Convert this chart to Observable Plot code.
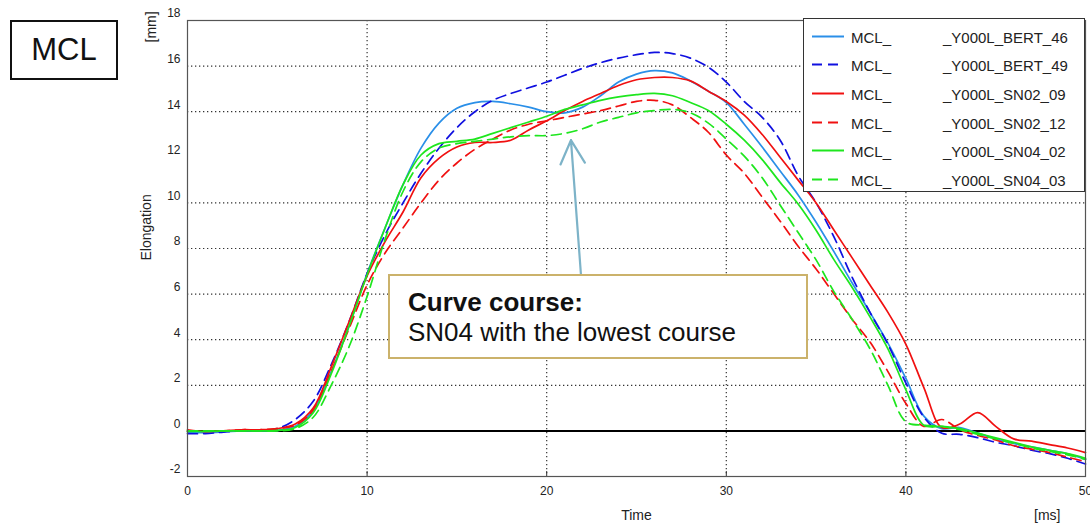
<!DOCTYPE html>
<html>
<head>
<meta charset="utf-8">
<script src="https://cdn.jsdelivr.net/npm/d3@7"></script>
<script src="https://cdn.jsdelivr.net/npm/@observablehq/plot@0.6"></script>
<style>
  html, body { margin: 0; padding: 0; background: #fff; overflow: hidden; }
  #wrap { position: relative; width: 1090px; height: 531px; font-family: "Liberation Sans", Arial, sans-serif; color: #222; }
  #mcl { position: absolute; left: 10px; top: 20px; width: 108px; height: 60px; box-sizing: border-box; border: 2px solid #111; display: flex; align-items: center; justify-content: center; font-size: 31px; color: #111; background: #fff; }
  #legend { position: absolute; left: 803px; top: 18px; width: 282px; height: 174px; box-sizing: border-box; border: 1px solid #333; background: #fff; }
  #legend .row { position: absolute; left: 0; width: 100%; height: 15px; font-size: 15px; line-height: 15px; }
  #legend .a { position: absolute; left: 47px; top: 0; }
  #legend .b { position: absolute; left: 139px; top: 0; }
  #legend svg { position: absolute; left: 7px; top: 0; }
  #note { position: absolute; left: 388px; top: 274px; width: 420px; height: 85px; box-sizing: border-box; border: 2px solid #cbb26b; background: #fff; }
  #note div { position: absolute; left: 18px; font-size: 26px; line-height: 26px; color: #111; white-space: nowrap; }
</style>
</head>
<body>
<div id="wrap"></div>
<script>
// ---- data ----
const time = [0,1,2,3,4,5,6,7,8,9,10,11,12,13,14,15,16,17,18,19,20,21,22,23,24,25,26,27,28,29,30,31,32,33,34,35,36,37,38,39,40,41,42,43,44,45,46,47,48,49,50];

const bert46 = [-0.05,-0.08,-0.05,0,0,0.02,0.2,0.9,2.6,4.6,6.9,8.9,10.8,12.4,13.5,14.15,14.4,14.45,14.35,14.2,14.0,13.95,14.2,14.7,15.3,15.65,15.8,15.7,15.35,14.9,14.4,13.45,12.45,11.4,10.35,9.15,7.85,6.5,5.2,3.85,2.3,0.65,0.1,0.15,-0.1,-0.35,-0.55,-0.7,-0.85,-1.0,-1.25];
const bert49 = [-0.12,-0.12,-0.05,0,0,0.1,0.5,1.3,2.9,4.8,6.9,8.6,10.0,11.3,12.4,13.3,14.0,14.5,14.8,15.05,15.3,15.6,15.9,16.15,16.35,16.5,16.6,16.55,16.35,15.95,15.3,14.45,13.75,12.75,11.2,10.0,8.5,6.75,5.2,3.8,2.1,0.6,-0.1,-0.15,-0.3,-0.5,-0.65,-0.85,-1.0,-1.2,-1.45];
const sn0209 = [0.05,-0.03,0,0.05,0.05,0.1,0.3,1.0,2.8,4.8,6.8,8.3,9.6,11.1,11.95,12.45,12.65,12.65,12.75,13.2,13.6,14.05,14.45,14.8,15.15,15.4,15.5,15.5,15.35,14.9,14.45,13.85,13.0,12.0,11.0,10.0,8.8,7.6,6.4,5.2,3.8,1.9,0.15,0.3,0.8,0.2,-0.35,-0.45,-0.6,-0.75,-0.95];
const sn0212 = [0,0,0,0.05,0.05,0.1,0.25,0.9,2.6,4.5,6.4,7.8,8.9,10.0,11.0,11.75,12.35,12.8,13.2,13.45,13.6,13.75,13.9,14.05,14.25,14.45,14.5,14.3,13.75,13.1,12.1,11.3,10.25,9.2,8.1,7.1,6.0,4.9,3.9,2.6,1.2,0.2,0.5,0.05,-0.2,-0.4,-0.65,-0.8,-0.95,-1.15,-1.35];
const sn0402 = [-0.02,-0.02,0,0,0,0.02,0.15,0.8,2.5,4.6,6.85,8.9,10.8,12.1,12.6,12.7,12.8,13.05,13.3,13.55,13.8,14.1,14.3,14.5,14.65,14.75,14.8,14.7,14.4,14.05,13.45,12.75,11.9,10.9,9.95,8.8,7.5,6.3,5.0,3.6,1.8,0.25,0.2,0.1,-0.1,-0.3,-0.5,-0.7,-0.85,-1.0,-1.2];
const sn0403 = [0,0,0,0,0,0,0.1,0.6,2.0,3.7,5.9,8.4,10.5,11.8,12.4,12.6,12.7,12.8,12.9,12.95,12.95,13.05,13.25,13.55,13.75,13.95,14.05,14.1,13.95,13.5,12.8,12.05,11.1,9.9,8.7,7.5,6.1,4.9,3.6,2.0,0.4,0.25,0.2,0.05,-0.15,-0.35,-0.55,-0.75,-0.9,-1.05,-1.25];

const seriesNames = ["BERT_46","BERT_49","SN02_09","SN02_12","SN04_02","SN04_03"];
const seriesValues = [bert46, bert49, sn0209, sn0212, sn0402, sn0403];
const seriesColors = ["#2a8fe8","#1010e0","#f01010","#f01010","#1ee61e","#1ee61e"];
const seriesDashed = [false, true, false, true, false, true];
const legendPrefix = "MCL_";
const legendSuffix = ["_Y000L_BERT_46","_Y000L_BERT_49","_Y000L_SN02_09","_Y000L_SN02_12","_Y000L_SN04_02","_Y000L_SN04_03"];

const xTicks = [0,10,20,30,40,50];
const yTicks = [-2,0,2,4,6,8,10,12,14,16,18];
const xGrid = [10,20,30,40];
const yGrid = [2,4,6,8,10,14,16];

const arrowData = [{t1: 21.95, v1: 6.4, t2: 21.35, v2: 12.75}];
const noteTitle = "Curve course:";
const noteText = "SN04 with the lowest course";

// ---- build ----
const rows = [];
seriesNames.forEach((name, k) => seriesValues[k].forEach((v, i) => rows.push({t: time[i], v, name})));

const lineMarks = seriesNames.map((name, k) =>
  Plot.line(rows.filter(r => r.name === name), {
    x: "t", y: "v", stroke: seriesColors[k], strokeWidth: 1.7,
    strokeDasharray: seriesDashed[k] ? "10,6" : null, curve: "catmull-rom"
  })
);

const chart = Plot.plot({
  width: 1090, height: 531,
  marginLeft: 187, marginRight: 5, marginTop: 20, marginBottom: 55,
  style: {fontFamily: "'Liberation Sans', Arial, sans-serif", fontSize: "12px", color: "#222", background: "transparent"},
  x: {domain: [0, 50], label: null},
  y: {domain: [-2, 18], label: null},
  marks: [
    Plot.ruleX(xGrid, {stroke: "#333", strokeWidth: 1.2, strokeDasharray: "1.3,2.7"}),
    Plot.ruleY(yGrid, {stroke: "#333", strokeWidth: 1.2, strokeDasharray: "1.3,2.7"}),
    Plot.ruleY([0], {stroke: "#000", strokeWidth: 2}),
    ...lineMarks,
    Plot.ruleX(xTicks, {y1: -2, y2: -1.78, stroke: "#333"}),
    Plot.frame({stroke: "#555", strokeWidth: 1.2}),
    Plot.axisX(xTicks, {tickSize: 0, tickPadding: 10, fontSize: 12, fill: "#222", tickFormat: d => String(d)}),
    Plot.axisY(yTicks, {tickSize: 0, tickPadding: 7, fontSize: 12, fill: "#222", dy: -7, tickFormat: d => String(d)}),
    Plot.arrow(arrowData, {x1: "t1", y1: "v1", x2: "t2", y2: "v2", stroke: "#7db3c8", strokeWidth: 2.2, headLength: 18, headAngle: 55}),
    Plot.text(["Time"], {text: d => d, frameAnchor: "bottom", dy: 43, fontSize: 14, fill: "#222"}),
    Plot.text(["[ms]"], {text: d => d, frameAnchor: "bottom-right", dx: -25, dy: 43, fontSize: 14, fill: "#222"}),
    Plot.text(["Elongation"], {text: d => d, frameAnchor: "left", rotate: -90, dx: -41, dy: 12, fontSize: 14, fill: "#222"}),
    Plot.text(["[mm]"], {text: d => d, frameAnchor: "top-left", rotate: -90, dx: -41, dy: 22, fontSize: 14, fill: "#222"})
  ]
});

const wrap = document.getElementById("wrap");
wrap.appendChild(chart);

// MCL box
const mcl = document.createElement("div");
mcl.id = "mcl"; mcl.textContent = "MCL";
wrap.appendChild(mcl);

// legend
const legend = document.createElement("div");
legend.id = "legend";
seriesNames.forEach((name, k) => {
  const row = document.createElement("div");
  row.className = "row";
  row.style.top = (10.5 + k * 28.7) + "px";
  const dash = seriesDashed[k] ? "10,6" : "none";
  row.innerHTML = `<svg width="34" height="15"><line x1="1" x2="33" y1="6.5" y2="6.5" stroke="${seriesColors[k]}" stroke-width="2" stroke-dasharray="${dash}"/></svg>` +
    `<span class="a">${legendPrefix}</span><span class="b">${legendSuffix[k]}</span>`;
  legend.appendChild(row);
});
wrap.appendChild(legend);

// annotation
const note = document.createElement("div");
note.id = "note";
note.innerHTML = `<div style="top:13px;font-weight:bold">${noteTitle}</div><div style="top:43px">${noteText}</div>`;
wrap.appendChild(note);
</script>
</body>
</html>
